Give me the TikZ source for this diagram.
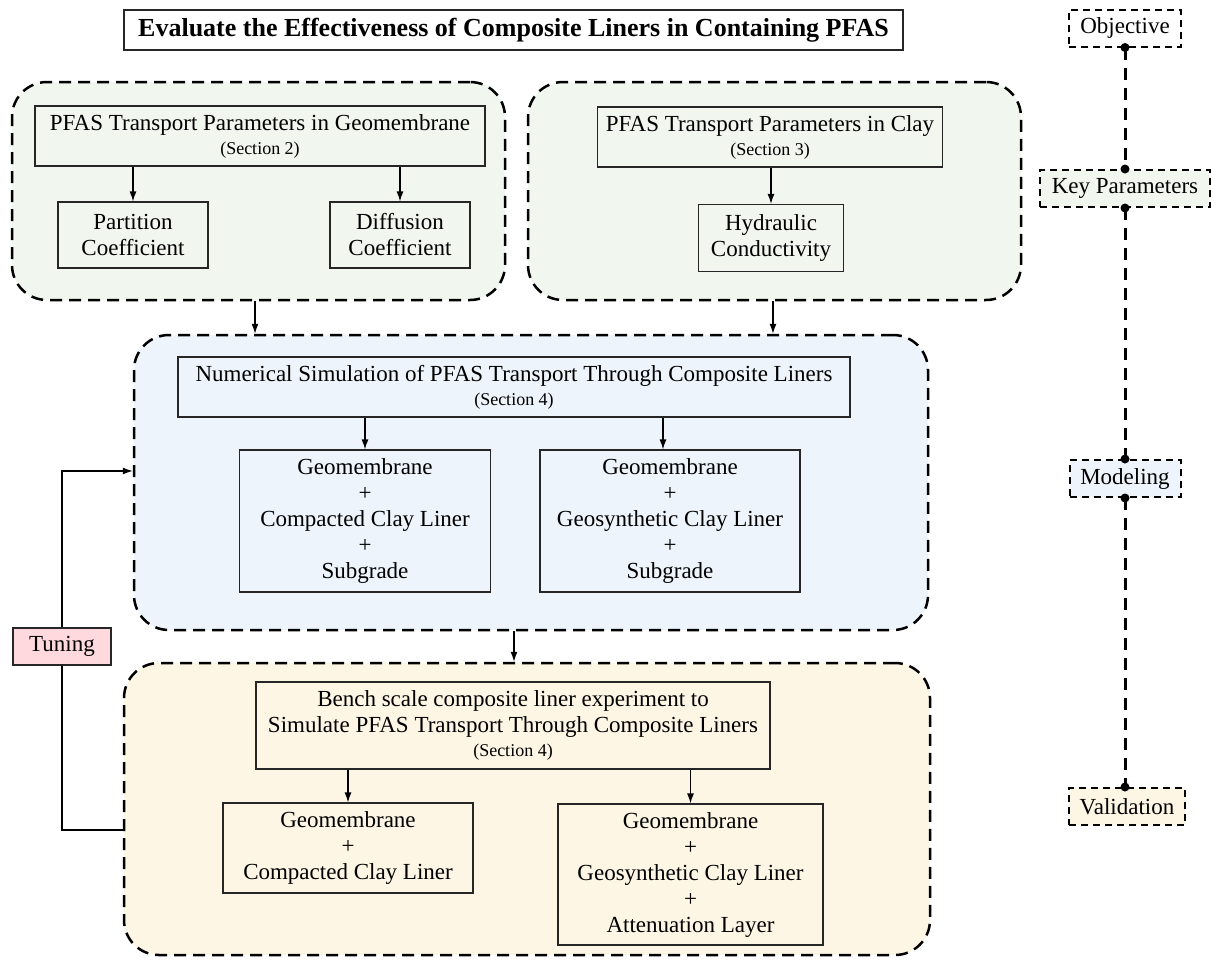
\documentclass[tikz,border=0pt]{standalone}
\usepackage{fontspec}
\setmainfont{Liberation Serif}
\usepackage{tikz}
\usetikzlibrary{positioning,calc,arrows.meta}
\usepackage{xcolor}
\definecolor{grnfill}{HTML}{F1F6EE}
\definecolor{bluefill}{HTML}{EDF4FB}
\definecolor{yelfill}{HTML}{FDF6E4}
\definecolor{pinkfill}{HTML}{FFD9DE}
\newcommand{\secnote}[1]{{\fontsize{18}{20}\selectfont (Section #1)}}

\begin{document}
\begin{tikzpicture}[x=1pt,y=-1pt,
  font=\fontsize{23}{26}\selectfont,
  grp/.style={draw,line width=2.5pt,dash pattern=on 12pt off 7pt,rounded corners=35pt,inner sep=0pt},
  box/.style={draw=black!85,line width=1.2pt,align=center,inner sep=0pt},
  tag/.style={draw,line width=2pt,dash pattern=on 7pt off 5pt,minimum height=37,inner sep=0pt},
  arr/.style={line width=1.2pt,-{Latex[length=10pt,width=7pt]}},
  leg/.style={line width=3pt,dash pattern=on 12pt off 8pt}]
  \useasboundingbox (0,0) rectangle (1211,967);

  % title
  \node[box,line width=1.4pt,minimum width=779,minimum height=40,font=\fontsize{26}{28}\selectfont\bfseries] (title) at (513.5,30)
   {Evaluate the Effectiveness of Composite Liners in Containing PFAS};

  % key parameters
  \node[grp,fill=grnfill,minimum width=493,minimum height=218] (grn1) at (258.5,191) {};
  \node[grp,fill=grnfill,minimum width=493,minimum height=218] (grn2) at (774.5,191) {};
  \node[box,minimum width=450,minimum height=60] (geopar) at (260,136)
   {PFAS Transport Parameters in Geomembrane\\[-2pt]\secnote{2}};
  \node[box,minimum width=150,minimum height=66] (partition) at (133,235) {Partition\\Coefficient};
  \node[box,minimum width=140,minimum height=66] (diffusion) at (400,235) {Diffusion\\Coefficient};
  \node[box,minimum width=345,minimum height=60] (claypar) at (770,137)
   {PFAS Transport Parameters in Clay\\[-2pt]\secnote{3}};
  \node[box,minimum width=145,minimum height=67] (hydraulic) at (771,238) {Hydraulic\\Conductivity};
  \draw[arr] (geopar.south -| partition) -- (partition.north);
  \draw[arr] (geopar.south -| diffusion) -- (diffusion.north);
  \draw[arr] (claypar.south -| hydraulic) -- (hydraulic.north);

  % modeling
  \node[grp,fill=bluefill,minimum width=794,minimum height=295] (blue) at (531,482.5) {};
  \node[box,minimum width=672,minimum height=60] (numsim) at (514,387)
   {Numerical Simulation of PFAS Transport Through Composite Liners\\[-2pt]\secnote{4}};
  \node[box,minimum width=251,minimum height=142] (simccl) at (365,521)
   {Geomembrane\\+\\Compacted Clay Liner\\+\\Subgrade};
  \node[box,minimum width=260,minimum height=142] (simgcl) at (670,521)
   {Geomembrane\\+\\Geosynthetic Clay Liner\\+\\Subgrade};
  \draw[arr] (numsim.south -| simccl) -- (simccl.north);
  \draw[arr] ([xshift=-7pt]simgcl.north |- numsim.south) -- ([xshift=-7pt]simgcl.north);
  \draw[arr] ([xshift=-3.5pt]grn1.south) -- ([xshift=-3.5pt]grn1.south |- blue.north);
  \draw[arr] ([xshift=-1.5pt]grn2.south) -- ([xshift=-1.5pt]grn2.south |- blue.north);

  % validation
  \node[grp,fill=yelfill,minimum width=806,minimum height=292] (yel) at (527,809) {};
  \node[box,minimum width=514,minimum height=87] (bench) at (513,725.5)
   {Bench scale composite liner experiment to\\Simulate PFAS Transport Through Composite Liners\\[-2pt]\secnote{4}};
  \node[box,minimum width=250,minimum height=90] (benchccl) at (348,848)
   {Geomembrane\\+\\Compacted Clay Liner};
  \node[box,minimum width=265,minimum height=141] (benchgcl) at (690.5,874.5)
   {Geomembrane\\+\\Geosynthetic Clay Liner\\+\\Attenuation Layer};
  \draw[arr] (bench.south -| benchccl) -- (benchccl.north);
  \draw[arr] (bench.south -| benchgcl) -- (benchgcl.north);
  \draw[arr] (numsim |- blue.south) -- (numsim |- yel.north);

  % tuning loop
  \node[box,fill=pinkfill,minimum width=98,minimum height=37] (tuning) at (62,646.5) {Tuning};
  \draw[arr] (tuning.north) |- ([yshift=11.5pt]blue.west);
  \draw[line width=1.2pt] (tuning.south) |- ([yshift=-21pt]yel.west);

  % legend
  \node[tag,fill=white,minimum width=112] (obj) at (1125,28) {Objective};
  \node[tag,fill=grnfill,minimum width=170] (keyp) at (1125,188.5) {Key Parameters};
  \node[tag,fill=bluefill,minimum width=111] (model) at (1125,478.5) {Modeling};
  \node[tag,fill=yelfill,minimum width=116] (valid) at (1127,806.5) {Validation};
  \draw[leg] (obj.south) -- (keyp.north);
  \draw[leg] (keyp.south) -- (model.north);
  \draw[leg] (model.south) -- (model.south |- valid.north);
  \foreach \p in {obj.south,keyp.north,keyp.south,model.north,model.south}
    \fill (\p) circle (4.5pt);
  \fill (model.south |- valid.north) circle (4.5pt);
\end{tikzpicture}
\end{document}
